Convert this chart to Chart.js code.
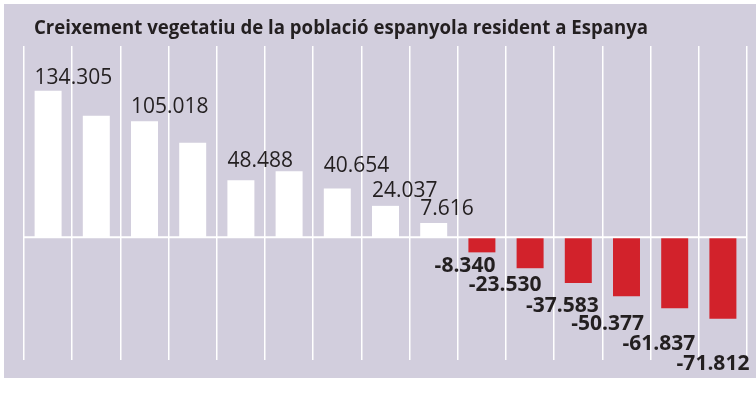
<!DOCTYPE html>
<html lang="ca">
<head>
<meta charset="utf-8">
<title>Creixement vegetatiu</title>
<script src="https://cdn.jsdelivr.net/npm/chart.js@4.4.1/dist/chart.umd.min.js"></script>
<style>
  html, body { margin: 0; padding: 0; background: #fff; }
  #wrap { position: relative; width: 756px; height: 401px; }
  #panel { position: absolute; left: 4px; top: 4px; width: 752px; height: 374px; background: #d2cedd; }
  #chart { position: absolute; left: 0; top: 0; }
</style>
</head>
<body>
<div id="wrap">
  <div id="panel"></div>
  <canvas id="chart" width="756" height="401"></canvas>
</div>
<script>
// --- Dades ---
const titol = 'Creixement vegetatiu de la població espanyola resident a Espanya';
const categories = ['1', '2', '3', '4', '5', '6', '7', '8', '9', '10', '11', '12', '13', '14', '15'];
const valors = [134305, 110400, 105018, 84500, 48488, 57100, 40654, 24037, 7616,
                -8340, -23530, -37583, -50377, -61837, -71812];
const ambEtiqueta = [true, false, true, false, true, false, true, true, true,
                     true, true, true, true, true, true];

// --- Estil ---
// el gràfic original allarga cada barra uns 6.000 més enllà de la línia del zero
const DESFAS = 6080;
const desplY = [7, 0, 8, 0, 13, 0, 17, 9, 8, 20, 23, 29, 34, 42, 51];
const desplX = [0, 0, 0, 0, 0, 0, 0, 0, 0, 0, -2, 7, 4, 7, 13];
const TINTA = '#231f20';
const VERMELL = '#d2222b';

function formatCa(v) {
  const s = Math.abs(v).toString().replace(/\B(?=(\d{3})+(?!\d))/g, '.');
  return (v < 0 ? '-' : '') + s;
}

const titolPlugin = {
  id: 'titol',
  afterDraw(chart) {
    const ctx = chart.ctx;
    ctx.save();
    ctx.font = 'bold 20px "Open Sans"';
    ctx.fillStyle = TINTA;
    ctx.textBaseline = 'alphabetic';
    const w = ctx.measureText(titol).width;
    ctx.translate(34, 33.5);
    ctx.scale(614 / w, 1);
    ctx.fillText(titol, 0, 0);
    ctx.restore();
  }
};

const etiquetesPlugin = {
  id: 'etiquetes',
  afterDatasetsDraw(chart) {
    const { ctx, chartArea, scales: { y } } = chart;
    const meta = chart.getDatasetMeta(0);
    ctx.save();
    // línia del zero
    const y0 = y.getPixelForValue(0);
    ctx.strokeStyle = '#ffffff';
    ctx.lineWidth = 2;
    ctx.beginPath();
    ctx.moveTo(chartArea.left, y0);
    ctx.lineTo(chartArea.right, y0);
    ctx.stroke();

    ctx.fillStyle = TINTA;
    ctx.textBaseline = 'alphabetic';
    meta.data.forEach((bar, i) => {
      if (!ambEtiqueta[i]) return;
      const v = valors[i];
      const half = bar.width / 2;
      if (v >= 0) {
        ctx.font = '21px "Open Sans"';
        ctx.textAlign = 'left';
        ctx.fillText(formatCa(v), bar.x - half + desplX[i], bar.y - desplY[i]);
      } else {
        ctx.font = 'bold 21px "Open Sans"';
        ctx.textAlign = 'right';
        ctx.fillText(formatCa(v), bar.x + half + desplX[i], bar.y + desplY[i]);
      }
    });
    ctx.restore();
  }
};

new Chart(document.getElementById('chart'), {
  type: 'bar',
  data: {
    labels: categories,
    datasets: [{
      data: valors.map(v => [0, v + Math.sign(v) * DESFAS]),
      backgroundColor: valors.map(v => v >= 0 ? '#ffffff' : VERMELL),
      borderWidth: 0,
      categoryPercentage: 1,
      barPercentage: 0.56
    }]
  },
  options: {
    responsive: false,
    animation: false,
    layout: { padding: { left: 24, right: 9, top: 46, bottom: 41 } },
    plugins: { legend: { display: false }, tooltip: { enabled: false } },
    scales: {
      x: {
        display: true,
        grid: { color: '#ffffff', lineWidth: 1.5, drawTicks: false },
        ticks: { display: false },
        border: { display: false }
      },
      y: { display: false, min: -117500, max: 183200 }
    }
  },
  plugins: [titolPlugin, etiquetesPlugin]
});
</script>
</body>
</html>
